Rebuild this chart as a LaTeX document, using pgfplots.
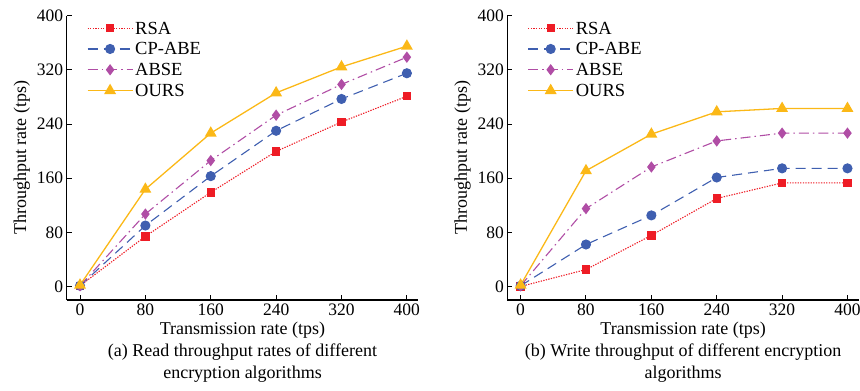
\documentclass[border=0pt]{standalone}
\usepackage{fontspec}
\setmainfont{Liberation Serif}
\usepackage{pgfplots}
\pgfplotsset{compat=1.18}
\definecolor{cRSA}{HTML}{EE1C25}
\definecolor{cCP}{HTML}{3F5FB0}
\definecolor{cAB}{HTML}{B04DA5}
\definecolor{cOU}{HTML}{FBB817}
\pgfplotsset{
  mystyle/.style={
    scale only axis, width=351.6bp, height=284.3bp,
    xmin=-16.3, xmax=414, ymin=-20, ymax=400,
    axis x line=bottom, axis y line=left,
    axis line style={-, line width=1.1bp, black},
    xtick={0,80,...,400}, ytick={0,80,...,400},
    tick align=inside, major tick length=5bp,
    tick style={line width=1bp, black},
    every tick label/.append style={font=\fontsize{17.5bp}{20bp}\selectfont},
    /pgf/number format/assume math mode=true,
    label style={font=\fontsize{18bp}{22bp}\selectfont},
    xlabel style={align=center},
    legend cell align=left,
    legend style={draw=none, fill=none, font=\fontsize{18.5bp}{21bp}\selectfont,
      at={(axis description cs:0.057,0.985)}, anchor=north west,
      inner sep=0pt, row sep=4.8bp,
      nodes={inner sep=2bp, text height=12bp, text depth=0bp}},
    legend image code/.code={\draw[mark repeat=2, mark phase=2, ##1] plot coordinates {(0bp,0bp)(22.5bp,0bp)(45bp,0bp)};},
    clip=false,
  },
  sRSA/.style={cRSA, line width=1.1bp, dash pattern=on 1.3bp off 1.3bp, mark=square*, mark size=3.6bp, mark options={solid, fill=cRSA, draw=cRSA}},
  sCP/.style={cCP, line width=1.1bp, dash pattern=on 10bp off 6bp, mark=*, mark size=4.5bp, mark options={solid, fill=cCP, draw=cCP}},
  sAB/.style={cAB, line width=1.1bp, dash pattern=on 10bp off 4bp on 1.5bp off 4bp, mark=diamond*, mark size=4.8bp, mark options={solid, fill=cAB, draw=cAB}},
  sOU/.style={cOU, line width=1.3bp, solid, mark=triangle*, mark size=5.6bp, mark options={solid, fill=cOU, draw=cOU}},
}
\begin{document}
\begin{tikzpicture}
\path[use as bounding box] (-66.7bp,-91bp) rectangle (793.3bp,300bp);
\begin{axis}[mystyle, at={(0,0)},
  ylabel={Throughput rate (tps)},
  xlabel={Transmission rate (tps)\\(a) Read throughput rates of different\\encryption algorithms}]
\addplot[sRSA] table {
x y
0 1
80 74
160 139
240 199.5
320 243
400 281
};
\addlegendentry{RSA}
\addplot[sCP] table {
x y
0 1
80 90
160 163
240 230
320 277
400 315
};
\addlegendentry{CP-ABE}
\addplot[sAB] table {
x y
0 1
80 107
160 186
240 253
320 298.5
400 338.7
};
\addlegendentry{ABSE}
\addplot[sOU] table {
x y
0 2
80 143.6
160 226.5
240 286
320 324.4
400 355
};
\addlegendentry{OURS}
\end{axis}
\begin{axis}[mystyle, at={(440.6bp,0)},
  ylabel={Throughput rate (tps)},
  xlabel={Transmission rate (tps)\\(b) Write throughput of different encryption\\algorithms}]
\addplot[sRSA] table {
x y
0 0
80 25
160 75.5
240 130
320 153
400 153
};
\addlegendentry{RSA}
\addplot[sCP] table {
x y
0 1
80 62
160 105
240 161
320 174.5
400 174.5
};
\addlegendentry{CP-ABE}
\addplot[sAB] table {
x y
0 1
80 115
160 176.5
240 215
320 226.5
400 226.5
};
\addlegendentry{ABSE}
\addplot[sOU] table {
x y
0 2
80 171
160 225
240 258
320 263
400 263
};
\addlegendentry{OURS}
\end{axis}
\end{tikzpicture}
\end{document}
